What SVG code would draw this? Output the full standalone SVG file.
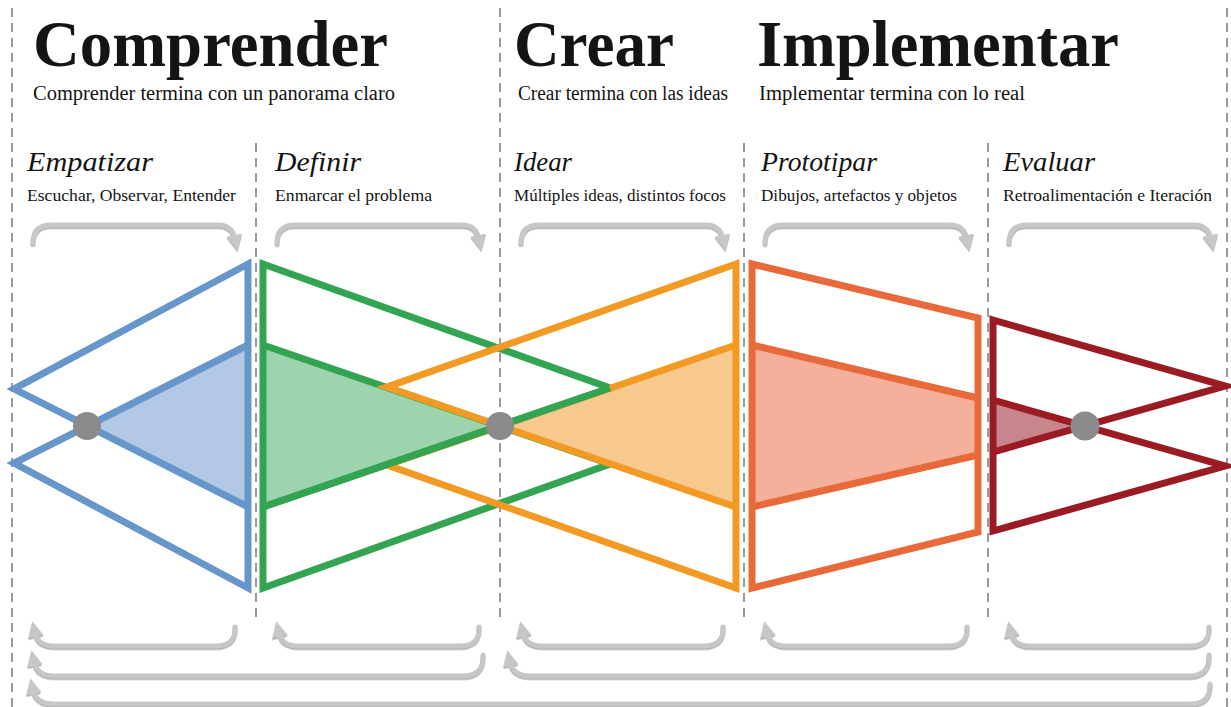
<svg xmlns="http://www.w3.org/2000/svg" width="1231" height="707" viewBox="0 0 1231 707">
<style>
text{font-family:"Liberation Serif","Times New Roman",serif;fill:#141414}
.h1{font-size:65px;font-weight:bold}
.h2{font-size:20px}
.ph{font-size:28px;font-style:italic}
.ds{font-size:17px}
.dash{stroke:#9a9a9a;stroke-width:2;stroke-dasharray:9 6;fill:none}
.sh{fill:none;stroke-width:7;stroke-linejoin:miter;stroke-miterlimit:4}
.arr{fill:none;stroke:#c7c7c7;stroke-width:5;stroke-linecap:round;marker-end:url(#ah)}
</style>
<defs>
<marker id="ah" viewBox="0 0 16 16" refX="4" refY="8" markerWidth="16" markerHeight="16" markerUnits="userSpaceOnUse" orient="auto">
<path d="M0,0 L16,8 L0,16 z" fill="#c7c7c7"/>
</marker>
<filter id="shd" x="-5%" y="-20%" width="110%" height="160%">
<feDropShadow dx="0" dy="1.5" stdDeviation="0.6" flood-color="#9a9a9a" flood-opacity="0.8"/>
</filter>
</defs>
<rect width="1231" height="707" fill="#ffffff"/>

<g id="guides">
<line class="dash" x1="12" y1="8" x2="12" y2="707"/>
<line class="dash" x1="500" y1="8" x2="500" y2="622"/>
<line class="dash" x1="1227" y1="8" x2="1227" y2="707"/>
<line class="dash" x1="256" y1="143" x2="256" y2="622"/>
<line class="dash" x1="744" y1="143" x2="744" y2="622"/>
<line class="dash" x1="988" y1="143" x2="988" y2="622"/>
</g>

<g id="headers">
<text class="h1" x="33" y="66" textLength="355" lengthAdjust="spacingAndGlyphs">Comprender</text>
<text class="h1" x="514" y="66" textLength="160" lengthAdjust="spacingAndGlyphs">Crear</text>
<text class="h1" x="757" y="66" textLength="362" lengthAdjust="spacingAndGlyphs">Implementar</text>
<text class="h2" x="33" y="100" textLength="362" lengthAdjust="spacingAndGlyphs">Comprender termina con un panorama claro</text>
<text class="h2" x="518" y="100" textLength="210" lengthAdjust="spacingAndGlyphs">Crear termina con las ideas</text>
<text class="h2" x="759" y="100" textLength="266" lengthAdjust="spacingAndGlyphs">Implementar termina con lo real</text>
</g>

<g id="empatizar">
<text class="ph" x="27" y="171" textLength="126" lengthAdjust="spacingAndGlyphs">Empatizar</text>
<text class="ds" x="27" y="201" textLength="209" lengthAdjust="spacingAndGlyphs">Escuchar, Observar, Entender</text>
<polygon points="248,345 87,426 248,507" fill="#b2c8e4"/>
<path class="sh" stroke="#6796cb" d="M248,264 L14,389 L248,507 Z M248,345 L14,463 L248,588 Z"/>
<circle cx="87" cy="426" r="14" fill="#8b8b8b"/>
</g>

<g id="definir">
<text class="ph" x="275" y="171" textLength="86" lengthAdjust="spacingAndGlyphs">Definir</text>
<text class="ds" x="275" y="201" textLength="157" lengthAdjust="spacingAndGlyphs">Enmarcar el problema</text>
<polygon points="263,345 500,426 263,507" fill="#9dd4ae"/>
<path class="sh" stroke="#33a552" d="M263,264 L610,388 L263,507 Z M263,345 L610,464 L263,588 Z"/>
</g>

<g id="idear">
<text class="ph" x="514" y="171" textLength="58" lengthAdjust="spacingAndGlyphs">Idear</text>
<text class="ds" x="514" y="201" textLength="212" lengthAdjust="spacingAndGlyphs">Múltiples ideas, distintos focos</text>
<polygon points="736,345 500,426 736,507" fill="#f7c98f"/>
<path class="sh" stroke="#f29a23" d="M736,264 L387,387 L736,507 Z M736,345 L387,465 L736,588 Z"/>
</g>

<g id="definir-overlay">
<line class="sh" stroke="#33a552" x1="610" y1="388" x2="263" y2="507"/>
<circle cx="500" cy="426" r="14" fill="#8b8b8b"/>
</g>

<g id="prototipar">
<text class="ph" x="761" y="171" textLength="116" lengthAdjust="spacingAndGlyphs">Prototipar</text>
<text class="ds" x="761" y="201" textLength="196" lengthAdjust="spacingAndGlyphs">Dibujos, artefactos y objetos</text>
<polygon points="752,345 978,398 978,455 752,507" fill="#f4b09b"/>
<path class="sh" stroke="#e8693a" d="M752,264 L978,318 L978,532 L752,588 Z M752,345 L978,398 M752,507 L978,455"/>
</g>

<g id="evaluar">
<text class="ph" x="1003" y="171" textLength="92" lengthAdjust="spacingAndGlyphs">Evaluar</text>
<text class="ds" x="1003" y="201" textLength="209" lengthAdjust="spacingAndGlyphs">Retroalimentación e Iteración</text>
<polygon points="993,400 1085,426 993,452" fill="#c9858c"/>
<path class="sh" stroke="#9a1b24" d="M993,320 L1225,386 L993,452 Z M993,400 L1225,466 L993,531 Z"/>
<circle cx="1085" cy="426" r="14.5" fill="#8b8b8b"/>
</g>

<g id="connectors" filter="url(#shd)">
<path class="arr" d="M33,243 Q33,225 51,225 L218,225 Q232,225 235,239"/>
<path class="arr" d="M277,243 Q277,225 295,225 L462,225 Q476,225 479,239"/>
<path class="arr" d="M521,243 Q521,225 539,225 L706,225 Q720,225 723,239"/>
<path class="arr" d="M765,243 Q765,225 783,225 L950,225 Q964,225 967,239"/>
<path class="arr" d="M1009,243 Q1009,225 1027,225 L1194,225 Q1208,225 1211,239"/>

<path class="arr" d="M235,627 Q236,646 216,646 L54,646 Q38,646 35,633"/>
<path class="arr" d="M479,627 Q480,646 460,646 L298,646 Q282,646 279,633"/>
<path class="arr" d="M723,627 Q724,646 704,646 L542,646 Q526,646 523,633"/>
<path class="arr" d="M967,627 Q968,646 948,646 L786,646 Q770,646 767,633"/>
<path class="arr" d="M1209,627 Q1210,646 1190,646 L1030,646 Q1014,646 1011,633"/>

<path class="arr" d="M483,655 Q484,676 463,676 L54,676 Q37,676 34,662"/>
<path class="arr" d="M1209,655 Q1210,676 1189,676 L530,676 Q513,676 510,662"/>

<path class="arr" d="M1210,684 Q1211,704 1190,704 L54,704 Q36,704 33,690"/>
</g>
</svg>
